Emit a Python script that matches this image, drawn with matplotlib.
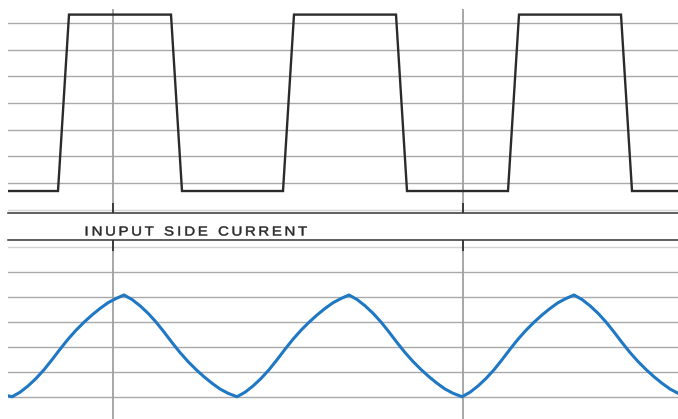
import matplotlib
matplotlib.use("Agg")
import numpy as np
import matplotlib.pyplot as plt
from matplotlib.patheffects import AbstractPathEffect
from matplotlib.path import Path
from matplotlib.transforms import IdentityTransform

# ---- data (time in arbitrary units) ----
# upper trace: trapezoidal voltage (grid units)
t_volt = [0, 50, 61, 163, 174, 275, 286, 388, 399, 500, 511, 613, 624, 670]
v_volt = [0.70, 0.70, 7.31, 7.31, 0.70, 0.70, 7.31, 7.31, 0.70, 0.70, 7.31, 7.31, 0.70, 0.70]

# lower trace: input side current (grid units)
t_cur = [0, 4, 12, 20, 28, 36, 44, 52, 60, 68, 76, 84, 92, 100, 108, 116,
         124, 132, 140, 148, 156, 164, 172, 180, 188, 196, 204, 212, 220, 229,
         237, 245, 253, 261, 269, 277, 285, 293, 301, 309, 317, 325, 333, 341,
         349, 357, 365, 373, 381, 389, 397, 405, 413, 421, 429, 437, 445, 454,
         462, 470, 478, 486, 494, 502, 510, 518, 526, 534, 542, 550, 558, 566,
         574, 582, 590, 598, 606, 614, 622, 630, 638, 646, 654, 662, 670]
i_cur = [0.04,
         0.00, 0.18, 0.43, 0.73, 1.08, 1.48, 1.90, 2.30, 2.66, 2.98, 3.27, 3.53, 3.76, 3.93, 4.07,
         3.89, 3.64, 3.34, 2.99, 2.59, 2.17, 1.77, 1.41, 1.09, 0.80, 0.54, 0.31, 0.14, 0.00,
         0.18, 0.43, 0.73, 1.08, 1.48, 1.90, 2.30, 2.66, 2.98, 3.27, 3.53, 3.76, 3.93, 4.07,
         3.89, 3.64, 3.34, 2.99, 2.59, 2.17, 1.77, 1.41, 1.09, 0.80, 0.54, 0.31, 0.14, 0.00,
         0.18, 0.43, 0.73, 1.08, 1.48, 1.90, 2.30, 2.66, 2.98, 3.27, 3.53, 3.76, 3.93, 4.07,
         3.89, 3.64, 3.34, 2.99, 2.59, 2.17, 1.77, 1.41, 1.09, 0.80, 0.54, 0.31, 0.14]

marker_t = [105, 455]
top_grid = [0, 1, 2, 3, 4, 5, 6, 7]
bot_grid = [0, 1, 2, 3, 4, 5, 6]
title = "INUPUT SIDE CURRENT"


class LetterSpacing(AbstractPathEffect):
    """Spread the glyphs of a text apart (pixels), widen and thicken them a little."""

    def __init__(self, text, spacing, widen=1.0, stroke=0.0):
        super().__init__()
        self.text = text
        self.spacing = spacing
        self.widen = widen
        self.stroke = stroke

    def draw_path(self, renderer, gc, tpath, affine, rgbFace=None):
        verts = affine.transform(tpath.vertices)
        codes = tpath.codes
        try:
            if codes is None:
                raise ValueError
            starts = [i for i, c in enumerate(codes) if c == Path.MOVETO]
            bounds = list(zip(starts, starts[1:] + [len(codes)]))
            groups = []
            for a, b in bounds:
                xs = verts[a:b, 0]
                lo, hi = xs.min(), xs.max()
                if groups and lo >= groups[-1][0] - 0.01 and hi <= groups[-1][1] + 0.01:
                    groups[-1][2].append((a, b))
                else:
                    groups.append([lo, hi, [(a, b)]])
            idx = [i for i, ch in enumerate(self.text) if ch != " "]
            if len(groups) != len(idx):
                raise ValueError
            n = len(self.text)
            new = verts.copy()
            for g, ci in zip(groups, idx):
                dx = (ci - (n - 1) / 2.0) * self.spacing
                cx = 0.5 * (g[0] + g[1])
                for a, b in g[2]:
                    new[a:b, 0] = cx + (verts[a:b, 0] - cx) * self.widen + dx
            path = Path(new, codes)
        except Exception:
            path = Path(verts, codes)
        gc0 = renderer.new_gc()
        gc0.copy_properties(gc)
        if self.stroke > 0 and rgbFace is not None:
            gc0.set_foreground(rgbFace)
            gc0.set_linewidth(self.stroke)
        else:
            gc0.set_linewidth(0)
        renderer.draw_path(gc0, path, IdentityTransform(), rgbFace)
        gc0.restore()


W, H = 678, 419
fig = plt.figure(figsize=(W / 100, H / 100), dpi=100, facecolor="white")


def fx(px):
    return px / W


def fy(py):
    return 1 - py / H


grid_c = "#a9a9a9"
light_c = "#d3d3d3"
spine_c = "#333333"

# ---- top axes ----
ax1 = fig.add_axes([fx(8), fy(213), fx(678 - 8), (213 - 9) / H])
ax1.set_xlim(0, 670)
ax1.set_ylim(-0.124, 7.52)
for g in top_grid:
    ax1.axhline(g, color=light_c if g == 0 else grid_c, lw=1.0, zorder=1)
for m in marker_t:
    ax1.axvline(m, color="#a0a0a0", lw=1.3, zorder=1)
ax1.plot(t_volt, v_volt, color="#2b2b2b", lw=1.7, zorder=3, solid_joinstyle="miter")
for s in ["left", "right", "top"]:
    ax1.spines[s].set_visible(False)
ax1.spines["bottom"].set_color(spine_c)
ax1.spines["bottom"].set_linewidth(1.1)
ax1.set_xticks(marker_t)
ax1.set_xticklabels([])
ax1.set_yticks([])
ax1.tick_params(axis="x", direction="in", length=7, width=1.3, color=spine_c)

# ---- bottom axes ----
ax2 = fig.add_axes([fx(8), 0, fx(678 - 8), (419 - 240) / H])
ax2.set_xlim(0, 670)
ax2.set_ylim(-0.89, 6.27)
for g in bot_grid:
    ax2.axhline(g, color=light_c if g == 6 else grid_c, lw=1.0, zorder=1)
for m in marker_t:
    ax2.axvline(m, color="#a0a0a0", lw=1.3, zorder=1)
ax2.plot(t_cur, i_cur, color="#1f78c4", lw=2.2, zorder=3)
for s in ["left", "right", "bottom"]:
    ax2.spines[s].set_visible(False)
ax2.spines["top"].set_color(spine_c)
ax2.spines["top"].set_linewidth(1.1)
ax2.xaxis.set_ticks_position("top")
ax2.set_xticks(marker_t)
ax2.set_xticklabels([])
ax2.set_yticks([])
ax2.tick_params(axis="x", direction="in", length=8, width=1.3, color=spine_c)

fig.text(fx(195.5), fy(232.5), title, ha="center", va="center",
         fontsize=9.4, color="#2a2a2a", family=["Liberation Sans", "DejaVu Sans"],
         path_effects=[LetterSpacing(title, 4.0, widen=1.15, stroke=0.35)])

fig.savefig("out.png", dpi=100, facecolor="white")
